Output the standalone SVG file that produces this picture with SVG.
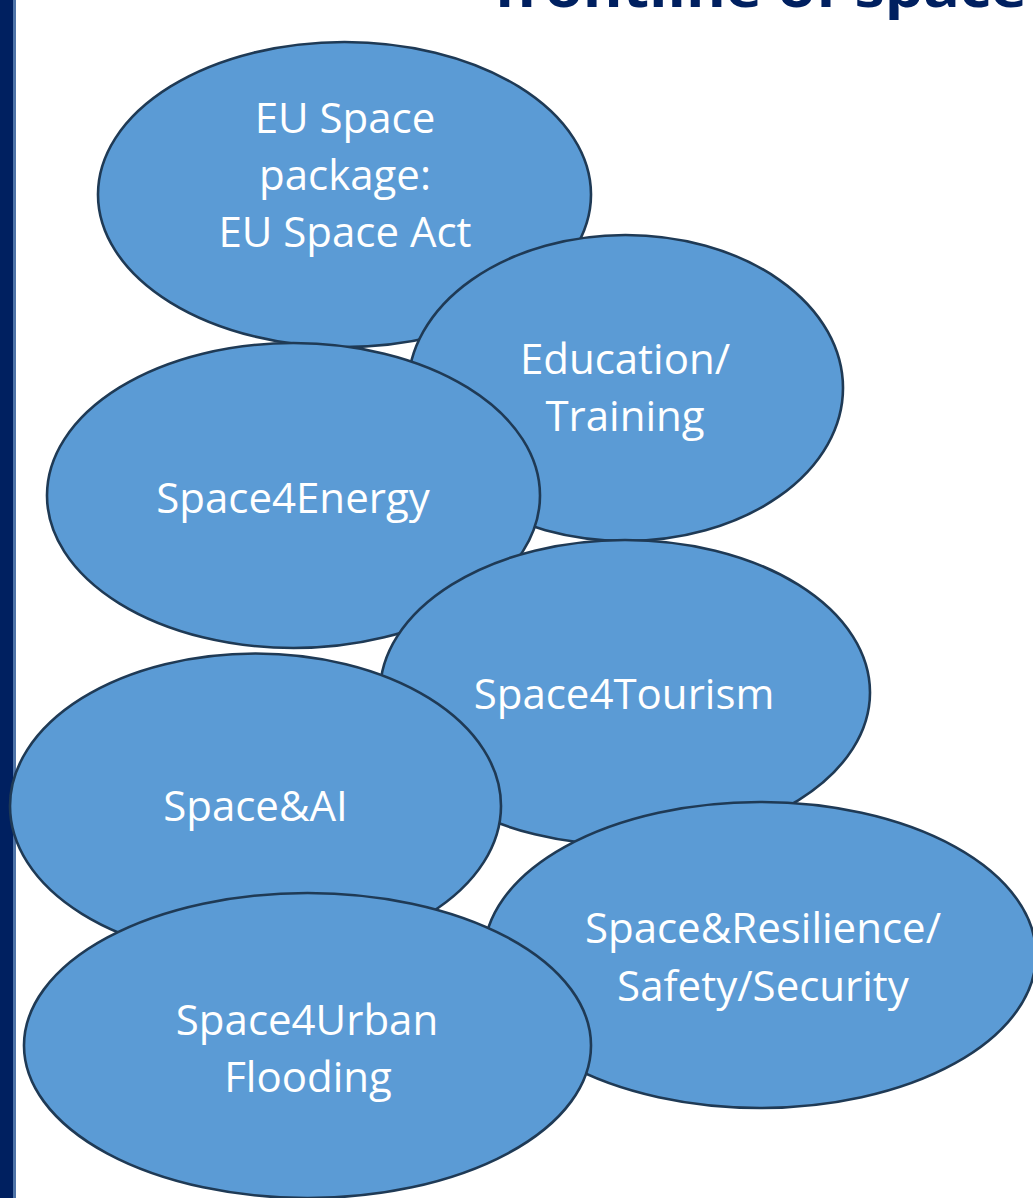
<svg xmlns="http://www.w3.org/2000/svg" width="1033" height="1198" viewBox="0 0 1033 1198">
<style>
.node ellipse{fill:#5B9BD5;stroke:#1F3A55;stroke-width:2.6}
.node text{font-family:"Open Sans","Liberation Sans",sans-serif;font-size:42px;fill:#FFFFFF;text-anchor:middle}
.title{font-family:"Open Sans","Liberation Sans",sans-serif;font-weight:bold;font-size:52px;fill:#002060}
</style>
<rect x="0" y="0" width="1033" height="1198" fill="#FFFFFF"/>
<rect x="0" y="0" width="13" height="1198" fill="#002060"/>
<rect x="13" y="0" width="3" height="1198" fill="#4F74A8"/>
<text class="title" x="494" y="7" textLength="533" lengthAdjust="spacingAndGlyphs">frontline of space</text>
<g id="connectors"></g>
<g id="node-eu-space" class="node">
<ellipse cx="344.5" cy="194.5" rx="246.5" ry="152.5"/>
<text x="345" y="133">EU Space</text>
<text x="345" y="190">package:</text>
<text x="345" y="247">EU Space Act</text>
</g>
<g id="node-education" class="node">
<ellipse cx="625.5" cy="388" rx="217.5" ry="153"/>
<text x="625" y="374">Education/</text>
<text x="625" y="431">Training</text>
</g>
<g id="node-energy" class="node">
<ellipse cx="293.5" cy="495.5" rx="246.5" ry="152.5"/>
<text x="293" y="513">Space4Energy</text>
</g>
<g id="node-tourism" class="node">
<ellipse cx="625" cy="692.5" rx="245" ry="152.5"/>
<text x="624" y="709">Space4Tourism</text>
</g>
<g id="node-ai" class="node">
<ellipse cx="255.5" cy="806" rx="245.5" ry="152.5"/>
<text x="255.5" y="821">Space&amp;AI</text>
</g>
<g id="node-resilience" class="node">
<ellipse cx="760" cy="955" rx="276" ry="153"/>
<text x="763" y="943">Space&amp;Resilience/</text>
<text x="763" y="1001">Safety/Security</text>
</g>
<g id="node-urban" class="node">
<ellipse cx="307.5" cy="1045.5" rx="283.5" ry="152.5"/>
<text x="307" y="1035">Space4Urban</text>
<text x="308" y="1092">Flooding</text>
</g>
</svg>
